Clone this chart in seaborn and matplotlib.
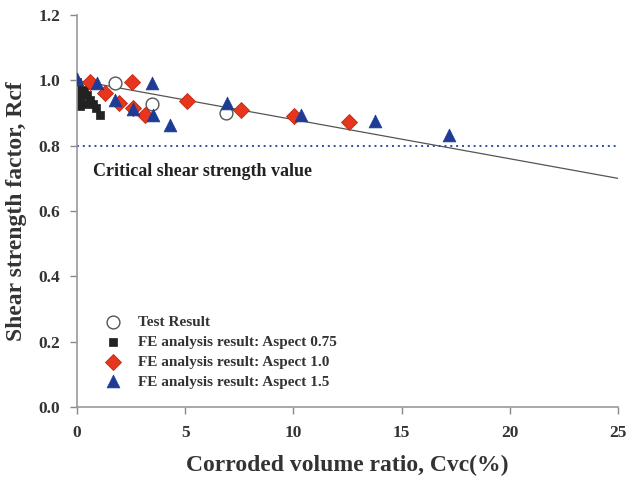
import matplotlib
matplotlib.use("Agg")
import matplotlib.pyplot as plt
import seaborn as sns
import pandas as pd

# ---- data ----
test_x = [1.75, 3.46, 6.87]
test_y = [0.991, 0.927, 0.899]

a075_x = [0.0, 0.05, 0.10, 0.14, 0.14, 0.14, 0.32, 0.46, 0.60, 0.74, 0.88, 1.06, 0.37]
a075_y = [0.994, 0.980, 0.963, 0.948, 0.933, 0.920, 0.970, 0.954, 0.940, 0.927, 0.914, 0.895, 0.927]

a10_x = [0.6, 2.53, 1.29, 1.94, 2.58, 3.13, 5.07, 7.60, 10.05, 12.58]
a10_y = [0.994, 0.994, 0.960, 0.930, 0.914, 0.893, 0.936, 0.908, 0.890, 0.872]

a15_x = [0.0, 0.92, 3.46, 1.75, 2.58, 3.50, 4.29, 6.91, 10.37, 13.78, 17.19]
a15_y = [1.003, 0.991, 0.991, 0.939, 0.911, 0.893, 0.862, 0.930, 0.893, 0.875, 0.832]

trend_x = [0, 25]
trend_y = [1.0, 0.7]

critical_value = 0.8
x_ticks = [0, 5, 10, 15, 20, 25]
y_ticks = [0.0, 0.2, 0.4, 0.6, 0.8, 1.0, 1.2]

labels = ["Test Result",
          "FE analysis result: Aspect 0.75",
          "FE analysis result: Aspect 1.0",
          "FE analysis result: Aspect 1.5"]

# ---- style ----
sns.set_style("ticks")
plt.rcParams["font.family"] = ["Liberation Serif", "DejaVu Serif"]
plt.rcParams["font.weight"] = "bold"

fig = plt.figure(figsize=(6.29, 4.84), dpi=100)
ax = fig.add_axes([0.1224, 0.159, 0.860, 0.810])

txt = "#333333"
red = "#E8361E"
blue = "#1F3C94"

ax.plot(trend_x, trend_y, color="#555555", lw=0.9, zorder=1)
ax.axhline(critical_value, color="#2E4DA8", lw=1.4, ls=(0, (1, 2)), zorder=1)

sns.scatterplot(x=test_x, y=test_y, ax=ax, marker="o", s=85,
                facecolor="white", edgecolor="#555555", linewidth=1.0,
                label=labels[0], zorder=3)
sns.scatterplot(x=a075_x, y=a075_y, ax=ax, marker="s", s=40,
                color="#222222", edgecolor="#222222", linewidth=0.5,
                label=labels[1], zorder=2)
sns.scatterplot(x=a10_x, y=a10_y, ax=ax, marker="D", s=66,
                color=red, edgecolor="#C02810", linewidth=0.6,
                label=labels[2], zorder=3)
sns.scatterplot(x=a15_x, y=a15_y, ax=ax, marker="^", s=85,
                color=blue, edgecolor=blue, linewidth=0.5,
                label=labels[3], zorder=3)

ax.text(0.74, 0.72, "Critical shear strength value", fontsize=13,
        fontweight="bold", color="#222222", va="center", ha="left")

ax.set_xlim(0, 25)
ax.set_ylim(0, 1.2)
ax.set_xticks(x_ticks)
ax.set_yticks(y_ticks)
ax.set_xticklabels([str(v) for v in x_ticks])
ax.set_yticklabels([f"{v:.1f}" for v in y_ticks])
ax.tick_params(axis="both", labelsize=12.5, colors="#888888", labelcolor=txt,
               length=5, width=1.0, direction="out")
ax.tick_params(axis="x", pad=8)
ax.tick_params(axis="y", pad=7)
for lab in ax.get_xticklabels() + ax.get_yticklabels():
    lab.set_fontweight("bold")

for side in ["top", "right"]:
    ax.spines[side].set_visible(False)
for side in ["left", "bottom"]:
    ax.spines[side].set_color("#999999")
    ax.spines[side].set_linewidth(1.2)

ax.set_xlabel("Corroded volume ratio, Cvc(%)", fontsize=17,
              fontweight="bold", color=txt, labelpad=10)
ax.set_ylabel("Shear strength factor, Rcf", fontsize=17,
              fontweight="bold", color=txt, labelpad=8)

leg = ax.legend(loc="lower left", bbox_to_anchor=(0.033, 0.02), frameon=False,
                fontsize=11, labelspacing=0.4, handletextpad=1.1,
                borderpad=0.2, handlelength=1.0)
for t in leg.get_texts():
    t.set_color(txt)
    t.set_fontweight("bold")

fig.savefig("out.png", dpi=100)
